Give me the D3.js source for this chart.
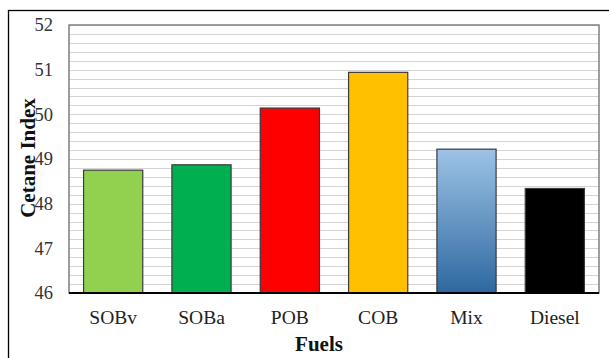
<!DOCTYPE html>
<html><head><meta charset="utf-8">
<script src="https://cdn.jsdelivr.net/npm/d3@7"></script>
<style>body{margin:0;background:#fff}svg{display:block}</style>
</head><body><svg id="c" width="609" height="358"></svg>
<script>
const categories = ["SOBv","SOBa","POB","COB","Mix","Diesel"];
const values = [48.75, 48.87, 50.14, 50.94, 49.22, 48.34];
const colors = ["#92D050","#00B050","#FF0000","#FFC000","url(#mixGrad)","#000000"];
const yTicks = [46,47,48,49,50,51,52];

const svg = d3.select("#c");
const m = {l:69, t:25, r:599, b:293};
const x = d3.scaleBand().domain(categories).range([m.l, m.r]).paddingInner(0.33).paddingOuter(0.165);
const y = d3.scaleLinear().domain([46,52]).range([m.b, m.t]);

const defs = svg.append("defs");
const g = defs.append("linearGradient").attr("id","mixGrad").attr("x1",0).attr("y1",0).attr("x2",0).attr("y2",1);
g.append("stop").attr("offset","0%").attr("stop-color","#9DC3E6");
g.append("stop").attr("offset","100%").attr("stop-color","#2E68A0");

svg.append("rect").attr("x",8.5).attr("y",10.5).attr("width",620).attr("height",360)
  .attr("fill","#fff").attr("stroke","#000").attr("stroke-width",1.3);

// minor gridlines
const grid = d3.range(46.2, 52.001, 0.2);
svg.append("g").selectAll("line").data(grid).join("line")
  .attr("x1",m.l).attr("x2",m.r).attr("y1",d=>Math.round(y(d))+0.5).attr("y2",d=>Math.round(y(d))+0.5)
  .attr("stroke","#d4d4d4").attr("stroke-width",1.2);

// plot border
svg.append("rect").attr("x",m.l).attr("y",m.t).attr("width",m.r-m.l).attr("height",m.b-m.t)
  .attr("fill","none").attr("stroke","#7f7f7f").attr("stroke-width",1.5);

// bars
svg.append("g").selectAll("rect").data(categories).join("rect")
  .attr("x",d=>x(d)).attr("width",x.bandwidth())
  .attr("y",(d,i)=>y(values[i])).attr("height",(d,i)=>y(46)-y(values[i]))
  .attr("fill",(d,i)=>colors[i]).attr("stroke","#3a3a3a").attr("stroke-width",1.2);

// x axis line
svg.append("line").attr("x1",m.l).attr("x2",m.r).attr("y1",m.b).attr("y2",m.b).attr("stroke","#000").attr("stroke-width",2);

const font = "Liberation Serif, Times New Roman, serif";
const yAxis = d3.axisLeft(y).tickValues(yTicks).tickFormat(d3.format("d")).tickSize(0).tickPadding(16);
const ya = svg.append("g").attr("transform",`translate(${m.l},0)`).call(yAxis)
  .attr("font-family",font).attr("font-size",18.5);
ya.select(".domain").remove();
ya.selectAll("text").attr("fill","#333");

const xAxis = d3.axisBottom(x).tickSize(0).tickPadding(17);
const xa = svg.append("g").attr("transform",`translate(0,${m.b})`).call(xAxis)
  .attr("font-family",font).attr("font-size",19.5);
xa.select(".domain").remove();
xa.selectAll("text").attr("fill","#222");

svg.append("text").attr("transform","translate(35,158) rotate(-90)").attr("text-anchor","middle")
  .attr("font-family",font).attr("font-weight","bold").attr("font-size",21).attr("fill","#111").text("Cetane Index");
svg.append("text").attr("x",319).attr("y",351).attr("text-anchor","middle")
  .attr("font-family",font).attr("font-weight","bold").attr("font-size",21).attr("fill","#111").text("Fuels");
</script></body></html>
